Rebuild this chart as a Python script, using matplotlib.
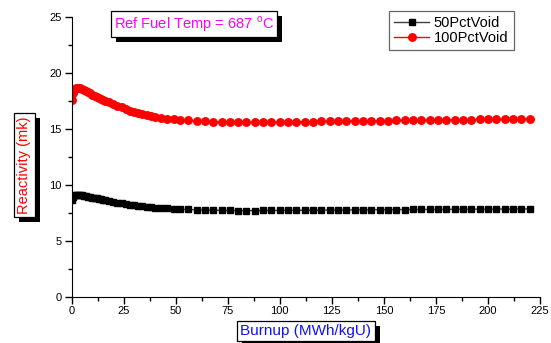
import matplotlib
matplotlib.use('Agg')
import matplotlib.pyplot as plt
from matplotlib.patches import Rectangle
from matplotlib.ticker import MultipleLocator

plt.rcParams['font.family'] = ['Liberation Sans', 'DejaVu Sans']
plt.rcParams['mathtext.fontset'] = 'custom'
plt.rcParams['mathtext.rm'] = 'Liberation Sans'

# Burnup points (MWh/kgU)
burnup = [0, 0.5, 1, 2, 3, 4, 5, 6, 7, 8, 9, 10, 11, 12, 13, 14, 15, 16,
          18, 20, 22, 24, 26, 28, 30, 32, 34, 36, 38, 40, 43, 46, 49, 52,
          56, 60, 64, 68, 72, 76, 80, 84, 88, 92, 96, 100, 104, 108, 112,
          116, 120, 124, 128, 132, 136, 140, 144, 148, 152, 156, 160, 164,
          168, 172, 176, 180, 184, 188, 192, 196, 200, 204, 208, 212, 216, 220]

# Reactivity (mk)
void_50 = [8.60, 8.90, 9.05, 9.10, 9.10, 9.08, 9.05, 9.02, 8.98, 8.94, 8.90, 8.86,
           8.82, 8.78, 8.74, 8.70, 8.66, 8.62, 8.55, 8.48, 8.41, 8.35, 8.28, 8.22,
           8.17, 8.12, 8.07, 8.03, 7.99, 7.96, 7.92, 7.88, 7.85, 7.82, 7.79, 7.76,
           7.74, 7.72, 7.71, 7.70, 7.69, 7.69, 7.69, 7.70, 7.70, 7.71, 7.71, 7.72,
           7.72, 7.73, 7.73, 7.74, 7.74, 7.75, 7.75, 7.76, 7.76, 7.77, 7.77, 7.78,
           7.78, 7.79, 7.79, 7.80, 7.80, 7.80, 7.81, 7.81, 7.82, 7.82, 7.82, 7.83,
           7.83, 7.83, 7.84, 7.84]
void_100 = [17.60, 18.20, 18.50, 18.60, 18.65, 18.60, 18.55, 18.50, 18.40, 18.30,
            18.20, 18.05, 17.95, 17.85, 17.75, 17.65, 17.57, 17.50, 17.35, 17.20,
            17.05, 16.90, 16.75, 16.62, 16.50, 16.40, 16.30, 16.21, 16.13, 16.06,
            15.97, 15.90, 15.84, 15.79, 15.74, 15.69, 15.65, 15.62, 15.60, 15.58,
            15.57, 15.57, 15.57, 15.58, 15.59, 15.60, 15.61, 15.62, 15.63, 15.64,
            15.65, 15.66, 15.67, 15.68, 15.69, 15.70, 15.71, 15.72, 15.73, 15.74,
            15.75, 15.76, 15.77, 15.78, 15.79, 15.80, 15.80, 15.81, 15.82, 15.83,
            15.83, 15.84, 15.85, 15.85, 15.86, 15.87]

fig = plt.figure(figsize=(5.51, 3.43), dpi=100)
ax = fig.add_axes([0.130, 0.135, 0.850, 0.816])

ax.plot(burnup, void_50, color='#404040', lw=1, marker='s', markersize=4.6,
        markerfacecolor='black', markeredgecolor='black', label='50PctVoid')
ax.plot(burnup, void_100, color='red', lw=1, marker='o', markersize=5.4,
        markerfacecolor='red', markeredgecolor='red', label='100PctVoid')

ax.set_xlim(0, 225)
ax.set_ylim(0, 25)
ax.xaxis.set_major_locator(MultipleLocator(25))
ax.xaxis.set_minor_locator(MultipleLocator(12.5))
ax.yaxis.set_major_locator(MultipleLocator(5))
ax.yaxis.set_minor_locator(MultipleLocator(2.5))
ax.spines['top'].set_visible(False)
ax.spines['right'].set_visible(False)
ax.tick_params(which='major', direction='out', length=5, width=1, labelsize=8, pad=2)
ax.tick_params(which='minor', direction='out', length=3, width=1)

leg = ax.legend(loc='upper right', bbox_to_anchor=(0.932, 0.968),
                bbox_transform=fig.transFigure, numpoints=1, handlelength=2.35,
                fontsize=10.5, frameon=True, fancybox=False, edgecolor='#404040',
                borderpad=0.35, labelspacing=0.05, handletextpad=0.35, borderaxespad=0)
leg.get_frame().set_linewidth(0.9)

boxes = []


def boxed_text(x, y, s, color, size, rotation=0):
    t = fig.text(x, y, s, color=color, ha='center', va='center', fontsize=size,
                 rotation=rotation, zorder=5,
                 bbox=dict(boxstyle='square,pad=0.22', facecolor='white',
                           edgecolor='black', lw=0.9))
    boxes.append(t)


boxed_text(194 / 551, 1 - 24 / 343, r'Ref Fuel Temp = 687 $^{\mathregular{o}}$C', '#FF00FF', 10.5)
boxed_text(306 / 551, 1 - 331 / 343, 'Burnup (MWh/kgU)', '#1010FF', 11)
boxed_text(24.5 / 551, 1 - 165 / 343, 'Reactivity (mk)', 'red', 10.5, rotation=90)

# black drop shadow behind each label box
fig.canvas.draw()
for t in boxes:
    bb = t.get_bbox_patch().get_window_extent()
    fig.add_artist(Rectangle((bb.x0 + 5, bb.y0 - 5), bb.width, bb.height,
                             transform=None, facecolor='black', edgecolor='none',
                             zorder=4))

fig.savefig('out.png', dpi=100)
plt.close('all')
